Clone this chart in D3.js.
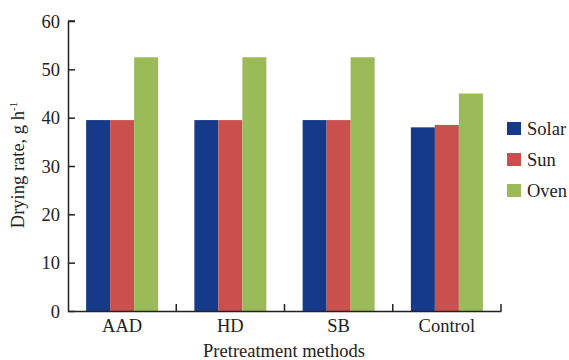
<!DOCTYPE html>
<html><head><meta charset="utf-8">
<script src="https://cdn.jsdelivr.net/npm/d3@7"></script>
<style>body{margin:0;background:#fff}svg{display:block}</style>
</head><body><svg id="c" width="569" height="360" font-family="Liberation Serif, serif"></svg>
<script>
const categories = ["AAD","HD","SB","Control"];
const seriesNames = ["Solar","Sun","Oven"];
const solar = [39.5,39.5,39.5,38];
const sun = [39.5,39.5,39.5,38.5];
const oven = [52.5,52.5,52.5,45];
const yTicks = [0,10,20,30,40,50,60];
const colors = ["#163a8a","#c9504d","#9bbb59"];
const seriesValues = [solar, sun, oven];

const FONT = "Liberation Serif";
const svg = d3.select("#c");
svg.append("rect").attr("width",569).attr("height",360).attr("fill","#fff");
const L = 68, R = 501, T = 21, B = 311;
const x = d3.scaleBand().domain(categories).range([L,R]).padding(0);
const groupW = 72;
const x1 = d3.scaleBand().domain(seriesNames).range([0,groupW]).padding(0);
const y = d3.scaleLinear().domain([0,60]).range([B,T]);

const g = svg.append("g");
categories.forEach((c,i)=>{
  const gx = x(c) + (x.bandwidth()-groupW)/2;
  seriesNames.forEach((s,j)=>{
    const v = seriesValues[j][i];
    g.append("rect").attr("x",gx+x1(s)).attr("y",y(v)).attr("width",x1.bandwidth()).attr("height",y(0)-y(v)).attr("fill",colors[j]);
  });
});

// y axis
const ya = svg.append("g").attr("transform",`translate(${L},0)`)
  .call(d3.axisLeft(y).tickValues(yTicks).tickSize(-7).tickFormat("").tickSizeOuter(0));
ya.select(".domain").attr("stroke","#222").attr("stroke-width",1.5);
ya.selectAll(".tick line").attr("stroke","#222").attr("stroke-width",1.5);
svg.append("line").attr("x1",L).attr("x2",L+7).attr("y1",T).attr("y2",T).attr("stroke","#222").attr("stroke-width",1.5);
svg.append("g").selectAll("text").data(yTicks).enter().append("text")
  .attr("x",L-8).attr("y",d=>y(d)).attr("dy","0.36em").attr("text-anchor","end")
  .attr("font-family",FONT).attr("font-size",18.5).attr("fill","#222").text(d=>d);

// x axis
const xa = svg.append("g").attr("transform",`translate(0,${B})`)
  .call(d3.axisBottom(x).tickSize(0).tickFormat("").tickSizeOuter(0));
xa.select(".domain").attr("stroke","#222").attr("stroke-width",1.5);
svg.append("g").selectAll("text").data(categories).enter().append("text")
  .attr("x",d=>x(d)+x.bandwidth()/2).attr("y",332).attr("text-anchor","middle")
  .attr("font-family",FONT).attr("font-size",18.5).attr("fill","#222").text(d=>d);
const bounds = categories.slice(1).map(c=>x(c)).concat([R]);
svg.selectAll(".bt").data(bounds).enter().append("line")
  .attr("x1",d=>d).attr("x2",d=>d).attr("y1",B).attr("y2",B-7).attr("stroke","#222").attr("stroke-width",1.5);

// axis titles
svg.append("text").attr("x",284).attr("y",357).attr("text-anchor","middle")
  .attr("font-family",FONT).attr("font-size",18.5).attr("fill","#222").text("Pretreatment methods");
const yt = svg.append("text").attr("transform","translate(24,165) rotate(-90)").attr("text-anchor","middle")
  .attr("font-family",FONT).attr("font-size",18.5).attr("fill","#222");
yt.append("tspan").text("Drying rate, g h");
yt.append("tspan").attr("font-size",11).attr("dy","-7").text("-1");

// legend
const lg = svg.append("g");
seriesNames.forEach((s,i)=>{
  const ly = 122 + i*31;
  lg.append("rect").attr("x",507).attr("y",ly).attr("width",14).attr("height",13).attr("fill",colors[i]);
  lg.append("text").attr("x",527).attr("y",ly+13).attr("font-family",FONT).attr("font-size",18.5).attr("fill","#222").text(s);
});
</script></body></html>
